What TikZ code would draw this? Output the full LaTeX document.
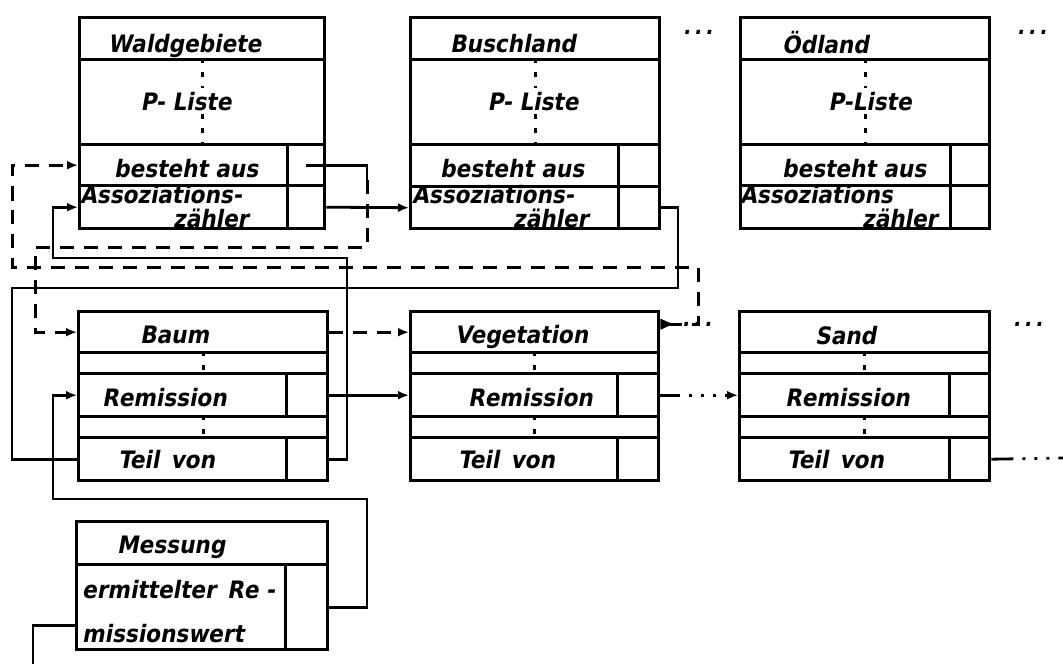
\documentclass[tikz,border=0pt]{standalone}
\usepackage{fontspec}
\newfontfamily\hand{DejaVu Sans Condensed}[FakeSlant=0.18]
\usetikzlibrary{arrows.meta}

\tikzset{
  row/.style={draw,line width=3.4pt,anchor=north west,inner sep=0pt},
  lbl/.style={anchor=base west,inner sep=0pt,font=\hand\bfseries\fontsize{24}{25}\selectfont},
  cover/.style={lbl,anchor=base,fill=white,inner sep=4pt},
  dots/.style={line width=3pt,dash pattern=on 5pt off 9pt},
  link/.style={line width=2.8pt},
  ref/.style={line width=3pt,dash pattern=on 14pt off 10pt},
  more/.style={font=\hand\bfseries\fontsize{22}{22}\selectfont},
  tip/.style={-{Latex[length=11pt,width=9pt]}}
}

\begin{document}
\begin{tikzpicture}[x=1pt,y=-1pt]
\useasboundingbox (0,0) rectangle (1063,664);

% Waldgebiete
\node[row,minimum width=245,minimum height=42] (wald-t) at (78,16) {};
\node[row,minimum width=245,minimum height=85] (wald-p) at (78,58) {};
\node[row,minimum width=208,minimum height=41] (wald-b) at (78,143) {};
\node[row,minimum width=37,minimum height=41] (wald-bp) at (286,143) {};
\node[row,minimum width=208,minimum height=43] (wald-a) at (78,184) {};
\node[row,minimum width=37,minimum height=43] (wald-ap) at (286,184) {};
\draw[dots] (wald-p.north) -- (wald-p.south);
\node[lbl] (wald-tl) at (108,52) {Waldgebiete};
\node[cover] (wald-pl) at (186,110) {P- Liste};
\node[lbl] (wald-bl) at (114,177) {besteht aus};
\node[lbl] (wald-al) at (80,203) {Assoziations-};
\node[lbl] (wald-zl) at (173,227) {zähler};

% Buschland
\node[row,minimum width=249,minimum height=42] (busch-t) at (409,16) {};
\node[row,minimum width=249,minimum height=85] (busch-p) at (409,58) {};
\node[row,minimum width=208,minimum height=42] (busch-b) at (409,143) {};
\node[row,minimum width=41,minimum height=42] (busch-bp) at (617,143) {};
\node[row,minimum width=208,minimum height=42] (busch-a) at (409,185) {};
\node[row,minimum width=41,minimum height=42] (busch-ap) at (617,185) {};
\draw[dots] (busch-p.north) -- (busch-p.south);
\node[lbl] (busch-tl) at (450,52) {Buschland};
\node[cover] (busch-pl) at (533,110) {P- Liste};
\node[lbl] (busch-bl) at (440,177) {besteht aus};
\node[lbl] (busch-al) at (412,203) {Assoziations-};
\node[lbl] (busch-zl) at (513,227) {zähler};

% Oedland
\node[row,minimum width=249,minimum height=42] (oed-t) at (739,16) {};
\node[row,minimum width=249,minimum height=85] (oed-p) at (739,58) {};
\node[row,minimum width=210,minimum height=41] (oed-b) at (739,143) {};
\node[row,minimum width=39,minimum height=41] (oed-bp) at (949,143) {};
\node[row,minimum width=210,minimum height=43] (oed-a) at (739,184) {};
\node[row,minimum width=39,minimum height=43] (oed-ap) at (949,184) {};
\draw[dots] (oed-p.north) -- (oed-p.south);
\node[lbl] (oed-tl) at (782,53) {Ödland};
\node[cover] (oed-pl) at (870,110) {P-Liste};
\node[lbl] (oed-bl) at (782,177) {besteht aus};
\node[lbl] (oed-al) at (740,203) {Assoziations};
\node[lbl] (oed-zl) at (862,227) {zähler};

% Baum
\node[row,minimum width=249,minimum height=41] (baum-t) at (77,310) {};
\node[row,minimum width=249,minimum height=21] (baum-g) at (77,351) {};
\node[row,minimum width=208,minimum height=43] (baum-r) at (77,372) {};
\node[row,minimum width=41,minimum height=43] (baum-rp) at (285,372) {};
\node[row,minimum width=249,minimum height=21] (baum-h) at (77,415) {};
\node[row,minimum width=208,minimum height=43] (baum-v) at (77,436) {};
\node[row,minimum width=41,minimum height=43] (baum-vp) at (285,436) {};
\node[lbl] (baum-tl) at (140,343) {Baum};
\node[lbl] (baum-rl) at (102,406) {Remission};
\node[lbl] (baum-vl) at (118,468) {Teil\, von};

% Vegetation
\node[row,minimum width=248,minimum height=41] (veg-t) at (409,310) {};
\node[row,minimum width=248,minimum height=21] (veg-g) at (409,351) {};
\node[row,minimum width=207,minimum height=43] (veg-r) at (409,372) {};
\node[row,minimum width=41,minimum height=43] (veg-rp) at (616,372) {};
\node[row,minimum width=248,minimum height=21] (veg-h) at (409,415) {};
\node[row,minimum width=207,minimum height=43] (veg-v) at (409,436) {};
\node[row,minimum width=41,minimum height=43] (veg-vp) at (616,436) {};
\node[lbl] (veg-tl) at (455,343) {Vegetation};
\node[lbl] (veg-rl) at (468,406) {Remission};
\node[lbl] (veg-vl) at (458,468) {Teil\, von};

% Sand
\node[row,minimum width=250,minimum height=41] (sand-t) at (738,310) {};
\node[row,minimum width=250,minimum height=21] (sand-g) at (738,351) {};
\node[row,minimum width=210,minimum height=43] (sand-r) at (738,372) {};
\node[row,minimum width=40,minimum height=43] (sand-rp) at (948,372) {};
\node[row,minimum width=250,minimum height=21] (sand-h) at (738,415) {};
\node[row,minimum width=210,minimum height=43] (sand-v) at (738,436) {};
\node[row,minimum width=40,minimum height=43] (sand-vp) at (948,436) {};
\node[lbl] (sand-tl) at (815,344) {Sand};
\node[lbl] (sand-rl) at (785,406) {Remission};
\node[lbl] (sand-vl) at (787,468) {Teil\, von};

% Messung
\node[row,minimum width=251,minimum height=43] (mess-t) at (75,520) {};
\node[row,minimum width=209,minimum height=85] (mess-w) at (75,563) {};
\node[row,minimum width=42,minimum height=85] (mess-wp) at (284,563) {};
\node[lbl] (mess-tl) at (117,553) {Messung};
\node[lbl] (mess-wl) at (82,598) {ermittelter\, Re -};
\node[lbl] (mess-ml) at (82,642) {missionswert};

% dotted middle lines
\draw[dots] (baum-g.north) -- (baum-g.south);
\draw[dots] (baum-h.north) -- (baum-h.south);
\draw[dots] (veg-g.north) -- (veg-g.south);
\draw[dots] (veg-h.north) -- (veg-h.south);
\draw[dots] (sand-g.north) -- (sand-g.south);
\draw[dots] (sand-h.north) -- (sand-h.south);

% more of the same
\node[more] (more1) at (698,32) {.\,.\,.};
\node[more] (more2) at (1032,32) {.\,.\,.};
\node[more] (more3) at (697,324) {.\,.\,.};
\node[more] (more4) at (1028,324) {.\,.\,.};

% links
\draw[link,tip] (wald-ap.east) -- (busch-a.west);
\draw[link,tip] (baum-rp.east) -- (veg-r.west);
\draw[link,tip] (baum-vp.east) -| (347,258) -| (53,220) |- (wald-a.west);
\draw[link] (busch-ap.east) -| (678,288) -| (12,400) |- (baum-v.west);
\draw[link,tip] (mess-wp.east) -| (367,499) -| (53,420) |- (baum-r.west);
\coordinate (down) at (33,664);
\draw[link] ([yshift=-18pt]mess-w.west) -| (down);
\draw[link,tip,dash pattern=on 20pt off 9pt on 3pt off 9pt on 3pt off 9pt on 3pt off 9pt on 40pt]
  (veg-rp.east) -- (sand-r.west);
\coordinate (edge) at (1063,458);
\draw[link,dash pattern=on 22pt off 9pt on 3pt off 9pt on 3pt off 9pt on 3pt off 9pt on 30pt]
  (sand-vp.east) -- (edge);

% dashed references
\draw[ref,{Latex[reversed,length=15pt,width=12pt]}-{Latex[length=11pt,width=9pt]}]
  ([yshift=8pt]veg-t.east) -| (698,267) -| (12,200) |- (wald-b.west);
\draw[link] (wald-bp.center) -| (367,180);
\draw[ref,tip] (367,180) |- (35,247) |- (baum-t.west);
\draw[ref,tip] (baum-t.east) -- (veg-t.west);
\end{tikzpicture}
\end{document}
